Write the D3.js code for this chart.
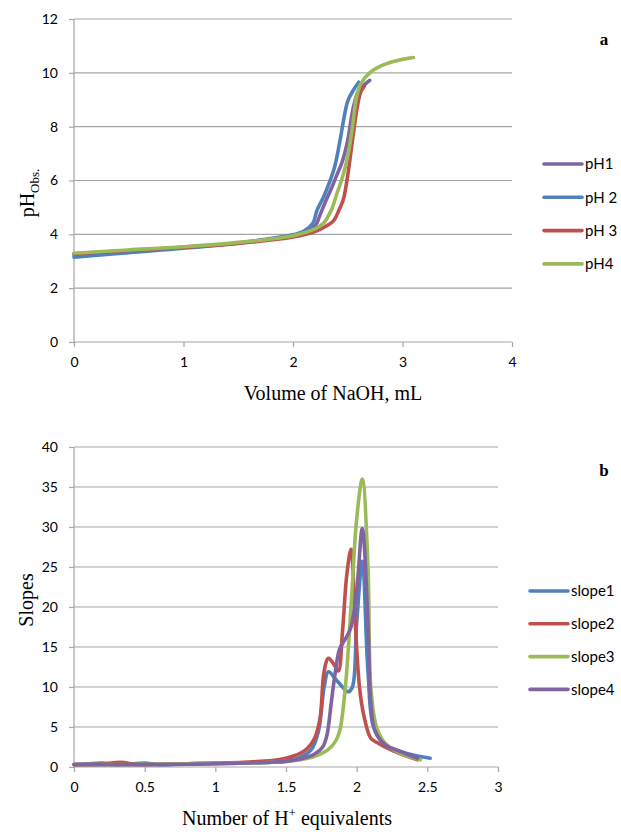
<!DOCTYPE html>
<html><head><meta charset="utf-8">
<script src="https://cdn.jsdelivr.net/npm/d3@7"></script>
<style>
html,body{margin:0;padding:0;background:#fff;}
svg{display:block;}
.tick text{font-family:Lato, "Open Sans", sans-serif;font-size:14px;fill:#000;}
</style></head>
<body>
<svg id="chart" width="621" height="832"></svg>
<script>
// ---------- Chart a: pH vs volume ----------
const volTicks = [0, 1, 2, 3, 4];
const phTicks = [0, 2, 4, 6, 8, 10, 12];
const phNames = ["pH1", "pH 2", "pH 3", "pH4"];
const pH1x = [0, 0.5, 1, 1.5, 2, 2.1, 2.2, 2.25, 2.3, 2.35, 2.4, 2.45, 2.5, 2.55, 2.6, 2.65, 2.7];
const pH1y = [3.25, 3.38, 3.52, 3.68, 3.95, 4.05, 4.3, 4.75, 5.25, 5.7, 6.2, 6.7, 7.5, 8.7, 9.35, 9.55, 9.72];
const pH2x = [0, 0.5, 1, 1.5, 2, 2.1, 2.18, 2.22, 2.28, 2.33, 2.38, 2.43, 2.46, 2.5, 2.55, 2.6];
const pH2y = [3.15, 3.32, 3.48, 3.68, 3.98, 4.12, 4.4, 4.9, 5.4, 5.9, 6.5, 7.5, 8.2, 8.95, 9.35, 9.65];
const pH3x = [0, 0.5, 1, 1.5, 2, 2.2, 2.3, 2.37, 2.42, 2.46, 2.5, 2.53, 2.56, 2.59, 2.62, 2.65];
const pH3y = [3.28, 3.4, 3.52, 3.66, 3.9, 4.1, 4.3, 4.5, 4.9, 5.3, 6.2, 7.1, 8.0, 8.8, 9.3, 9.5];
const pH4x = [0, 0.5, 1, 1.5, 2, 2.2, 2.28, 2.35, 2.4, 2.45, 2.5, 2.54, 2.58, 2.62, 2.7, 2.8, 2.9, 3.0, 3.1];
const pH4y = [3.3, 3.42, 3.54, 3.7, 3.95, 4.2, 4.42, 4.9, 5.5, 6.1, 6.9, 7.9, 9.1, 9.6, 10.0, 10.25, 10.4, 10.5, 10.57];

// ---------- Chart b: slopes vs H+ equivalents ----------
const eqTicks = [0, 0.5, 1, 1.5, 2, 2.5, 3];
const eqTickLabels = ["0", "0.5", "1", "1.5", "2", "2.5", "3"];
const slopeTicks = [0, 5, 10, 15, 20, 25, 30, 35, 40];
const slopeNames = ["slope1", "slope2", "slope3", "slope4"];
const s1x = [0, 0.1, 0.2, 0.3, 0.4, 0.5, 0.6, 0.8, 1.0, 1.2, 1.4, 1.5, 1.6, 1.68, 1.73, 1.77, 1.8, 1.85, 1.9, 1.94, 1.97, 2.0, 2.04, 2.08, 2.12, 2.2, 2.3, 2.4, 2.52];
const s1y = [0.3, 0.4, 0.5, 0.3, 0.35, 0.5, 0.3, 0.4, 0.45, 0.5, 0.6, 0.8, 1.2, 2.2, 4.5, 10, 11.9, 11, 10, 9.4, 10, 18, 25.7, 12, 5, 2.8, 2, 1.5, 1.1];
const s2x = [0, 0.1, 0.2, 0.33, 0.45, 0.6, 0.8, 1.0, 1.2, 1.4, 1.5, 1.6, 1.65, 1.7, 1.74, 1.77, 1.8, 1.84, 1.87, 1.9, 1.93, 1.96, 1.99, 2.02, 2.05, 2.1, 2.15, 2.2, 2.3, 2.43];
const s2y = [0.3, 0.3, 0.35, 0.6, 0.3, 0.35, 0.4, 0.5, 0.6, 0.8, 1.1, 1.7, 2.3, 3.5, 6, 12, 13.6, 12.8, 12, 17, 24, 27.2, 18, 10, 6.5, 3.6, 3, 2.5, 1.7, 0.9];
const s3x = [0, 0.2, 0.4, 0.6, 0.8, 1.0, 1.2, 1.4, 1.5, 1.6, 1.7, 1.8, 1.85, 1.88, 1.92, 1.96, 2.0, 2.04, 2.08, 2.1, 2.14, 2.2, 2.3, 2.45];
const s3y = [0.3, 0.3, 0.3, 0.35, 0.4, 0.45, 0.5, 0.6, 0.7, 0.9, 1.3, 2.2, 3.2, 4.5, 10, 20, 31, 36, 25, 10, 5, 3, 1.8, 0.9];
const s4x = [0, 0.2, 0.4, 0.6, 0.8, 1.0, 1.2, 1.4, 1.5, 1.6, 1.7, 1.76, 1.79, 1.82, 1.85, 1.88, 1.92, 1.96, 2.0, 2.04, 2.08, 2.1, 2.13, 2.2, 2.3, 2.43];
const s4y = [0.3, 0.3, 0.3, 0.3, 0.35, 0.4, 0.5, 0.6, 0.7, 1.0, 1.6, 2.5, 4, 8, 12, 14.8, 16, 17.5, 22, 29.8, 18, 8, 4.5, 2.8, 2, 1.1];

const colorsA = ["#8064A2", "#4F81BD", "#C0504D", "#9BBB59"];
const colorsB = ["#4F81BD", "#C0504D", "#9BBB59", "#8064A2"];

const svg = d3.select("#chart");
const zip = (xs, ys) => xs.map((x, i) => [x, ys[i]]);

function drawChart(o) {
  const g = svg.append("g");
  const x = d3.scaleLinear().domain(o.xDomain).range([o.left, o.right]);
  const y = d3.scaleLinear().domain(o.yDomain).range([o.bottom, o.top]);
  // gridlines
  g.append("g").selectAll("line").data(o.yTicks.filter(t => t !== o.yDomain[0])).join("line")
    .attr("x1", o.left).attr("x2", o.right)
    .attr("y1", d => y(d)).attr("y2", d => y(d))
    .attr("stroke", "#a6a6a6").attr("stroke-width", 1.2);
  // axes
  const yAx = g.append("g").attr("transform", `translate(${o.left},0)`)
    .call(d3.axisLeft(y).tickValues(o.yTicks).tickSize(5).tickPadding(11).tickFormat(d3.format("d")));
  const xAx = g.append("g").attr("transform", `translate(0,${o.bottom})`)
    .call(d3.axisBottom(x).tickValues(o.xTicks).tickSize(5).tickPadding(10)
      .tickFormat((d, i) => o.xLabels ? o.xLabels[i] : d3.format("d")(d)));
  [yAx, xAx].forEach(a => {
    a.selectAll("path.domain").attr("stroke", "#a6a6a6").attr("stroke-width", 1.2)
      .attr("d", a === yAx ? `M0,${o.bottom}V${o.top}` : `M${o.left},0H${o.right}`);
    a.selectAll(".tick line").attr("stroke", "#a6a6a6").attr("stroke-width", 1.2);
  });
  // series
  const line = d3.line().x(d => x(d[0])).y(d => y(d[1])).curve(d3.curveCatmullRom.alpha(0.5));
  o.series.forEach((s, i) => {
    g.append("path").datum(s).attr("d", line).attr("fill", "none")
      .attr("stroke", o.colors[i]).attr("stroke-width", 3.6)
      .attr("stroke-linejoin", "round").attr("stroke-linecap", "round");
  });
  // legend
  o.names.forEach((n, i) => {
    const ly = o.legY + i * o.legStep;
    g.append("line").attr("x1", o.legX).attr("x2", o.legX + 38).attr("y1", ly).attr("y2", ly)
      .attr("stroke", o.colors[i]).attr("stroke-width", 3.6).attr("stroke-linecap", "round");
    g.append("text").attr("x", o.legX + 41).attr("y", ly).attr("dy", "0.35em")
      .attr("font-family", "Lato, 'Open Sans', sans-serif").attr("font-size", 15).text(n);
  });
  // panel letter
  g.append("text").attr("x", 604).attr("y", o.letterY).attr("text-anchor", "middle")
    .attr("font-family", "'Liberation Serif', 'Times New Roman', serif").attr("font-weight", "bold")
    .attr("font-size", 17).text(o.letter);
  return g;
}

const gA = drawChart({
  xDomain: [0, 4], yDomain: [0, 12], left: 74, right: 512, top: 19, bottom: 342,
  xTicks: volTicks, yTicks: phTicks, colors: colorsA, names: phNames,
  series: [zip(pH1x, pH1y), zip(pH2x, pH2y), zip(pH3x, pH3y), zip(pH4x, pH4y)],
  legX: 544, legY: 164, legStep: 33.3, letter: "a", letterY: 45
});
const gB = drawChart({
  xDomain: [0, 3], yDomain: [0, 40], left: 74, right: 498, top: 447, bottom: 767,
  xTicks: eqTicks, xLabels: eqTickLabels, yTicks: slopeTicks, colors: colorsB, names: slopeNames,
  series: [zip(s1x, s1y), zip(s2x, s2y), zip(s3x, s3y), zip(s4x, s4y)],
  legX: 530, legY: 591, legStep: 32.8, letter: "b", letterY: 476
});

const serif = "'Liberation Serif', 'Times New Roman', serif";
// axis titles
svg.append("text").attr("x", 333).attr("y", 400).attr("text-anchor", "middle")
  .attr("font-family", serif).attr("font-size", 20).text("Volume of NaOH, mL");
const xtB = svg.append("text").attr("x", 287).attr("y", 825).attr("text-anchor", "middle")
  .attr("font-family", serif).attr("font-size", 20);
xtB.append("tspan").text("Number of H");
xtB.append("tspan").attr("font-size", 13).attr("dy", -8).text("+");
xtB.append("tspan").attr("dy", 8).text(" equivalents");

const ytA = svg.append("text").attr("transform", "translate(34,193) rotate(-90)").attr("text-anchor", "middle")
  .attr("font-family", serif).attr("font-size", 20);
ytA.append("tspan").text("pH");
ytA.append("tspan").attr("font-size", 13).attr("dy", 5).text("Obs.");

svg.append("text").attr("transform", "translate(33,600) rotate(-90)").attr("text-anchor", "middle")
  .attr("font-family", serif).attr("font-size", 20).text("Slopes");
</script>
</body></html>
